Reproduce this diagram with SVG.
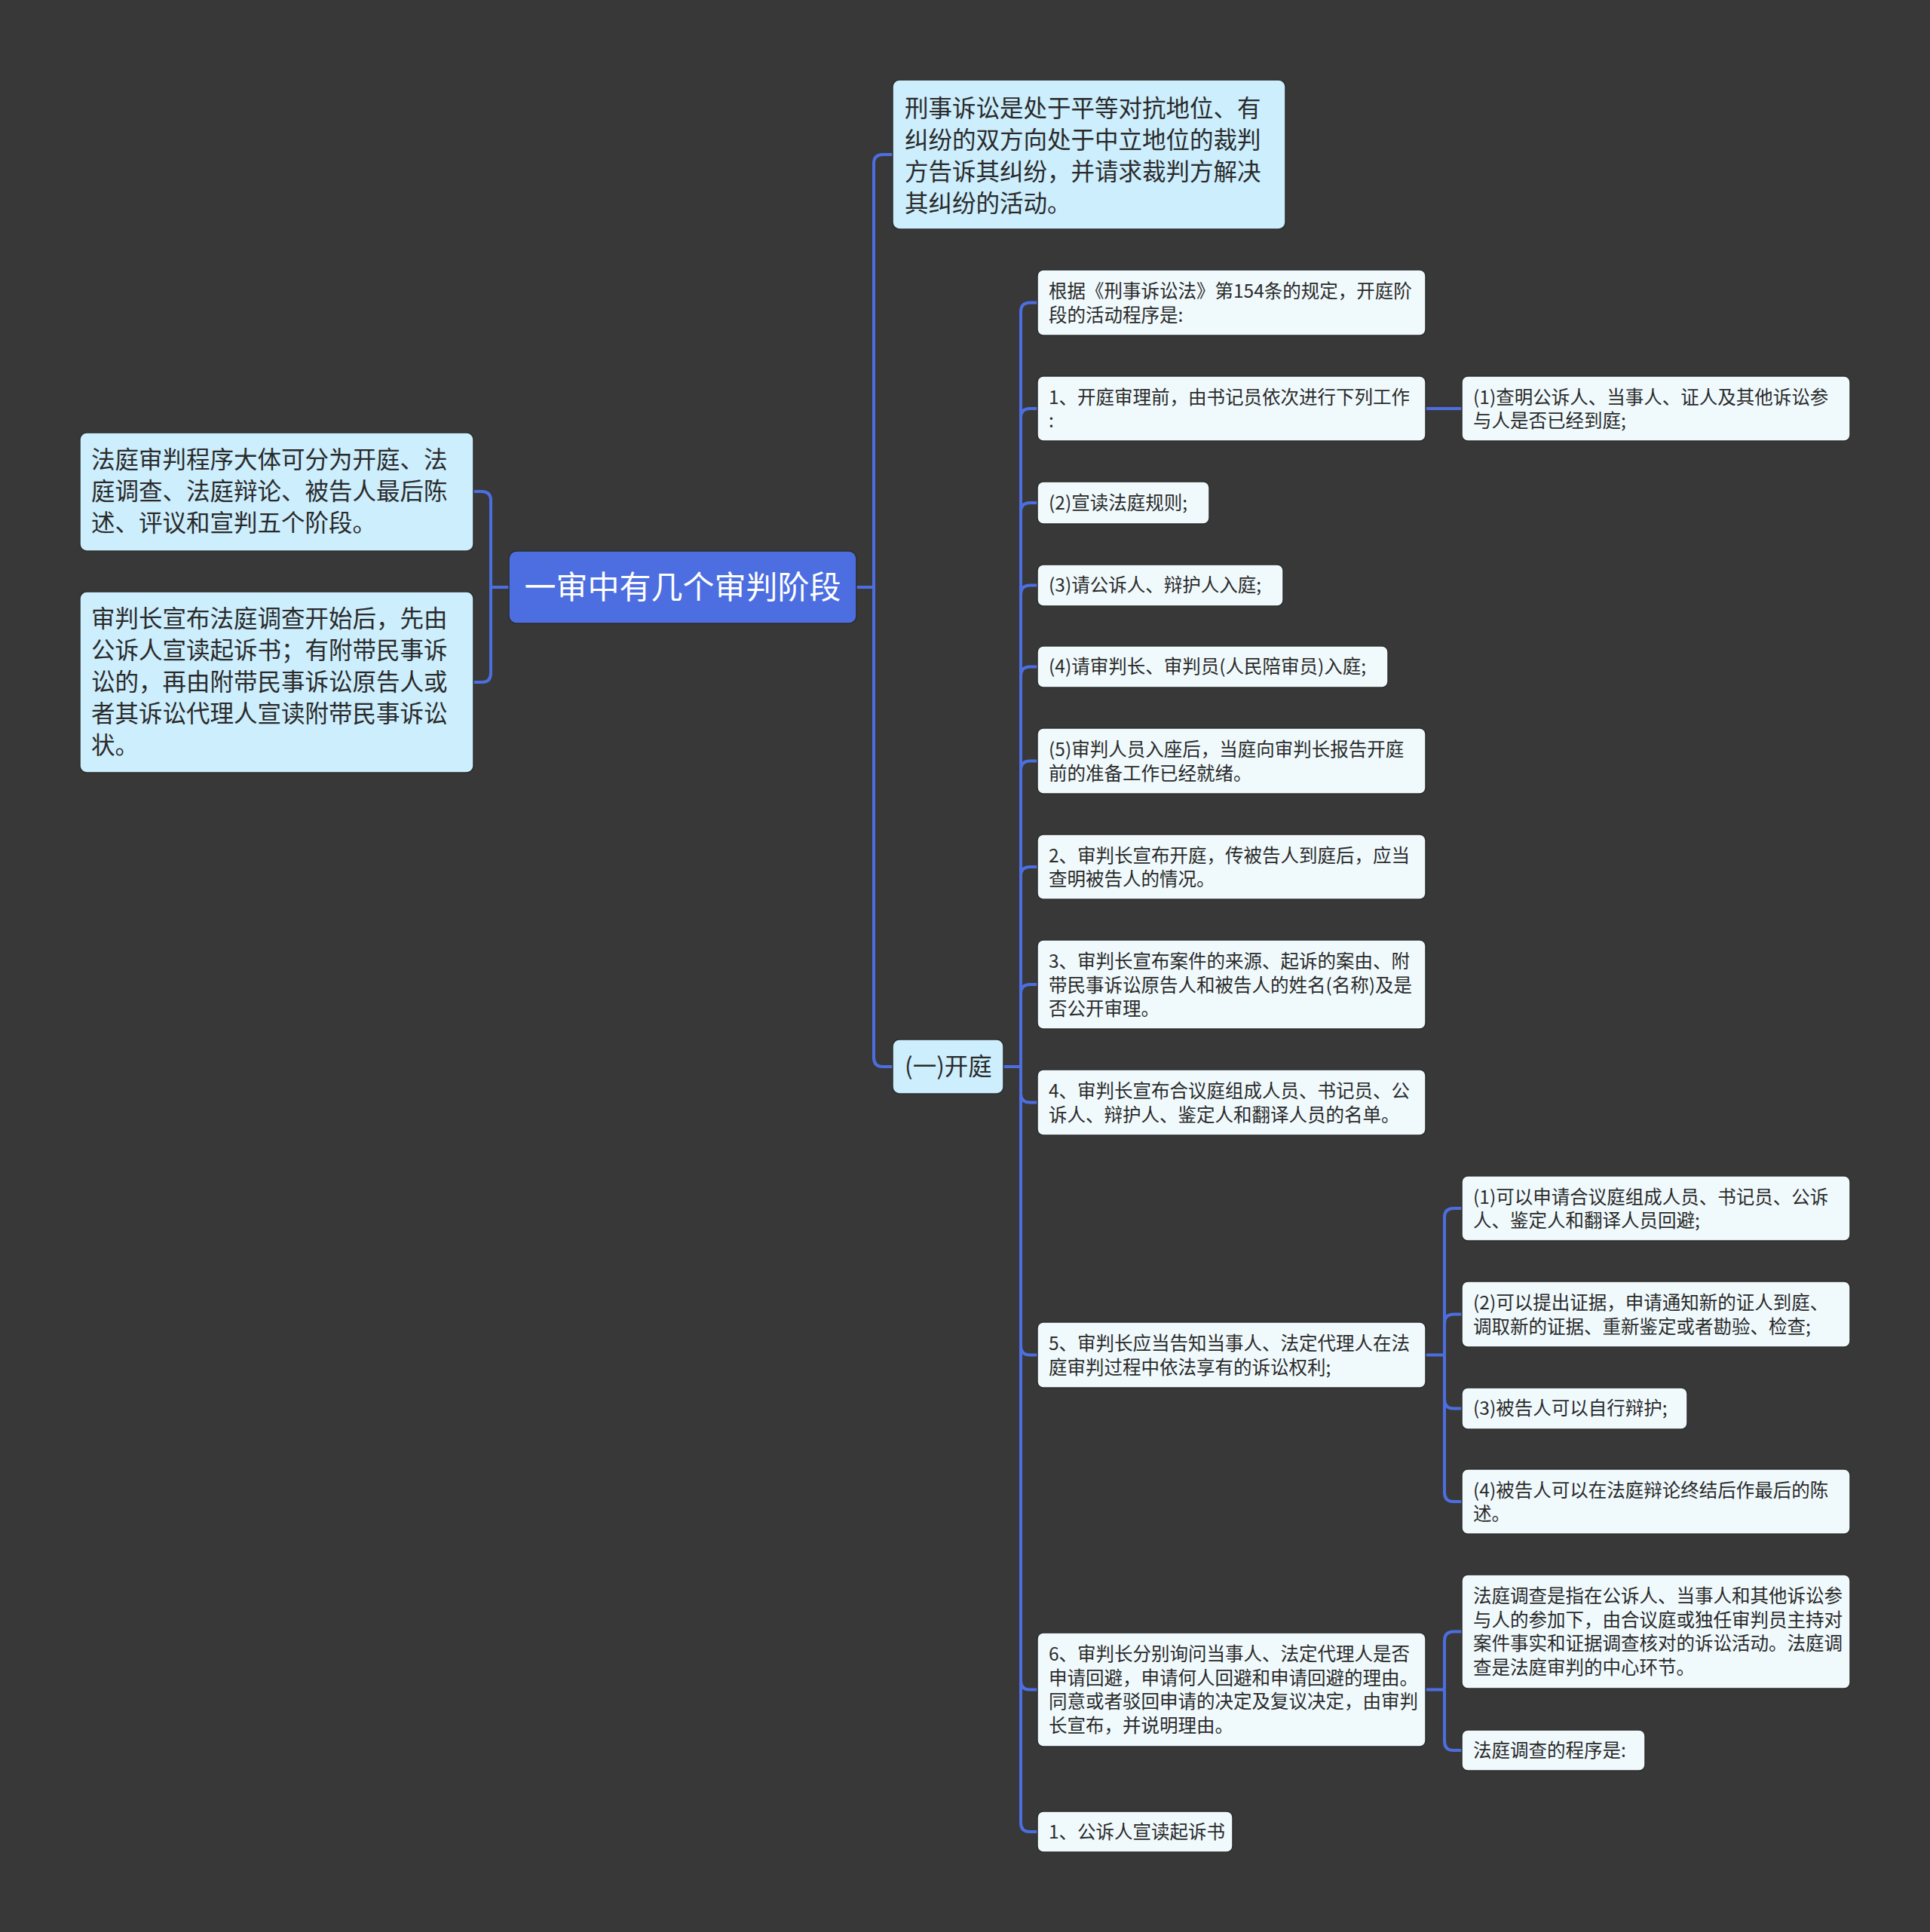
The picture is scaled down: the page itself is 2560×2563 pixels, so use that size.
<svg xmlns="http://www.w3.org/2000/svg" width="2560" height="2563" viewBox="0 0 2560 2563">
<style>
text{font-family:"Noto Sans CJK SC","Microsoft YaHei",sans-serif;}
.bg{fill:#383838;}
.root{fill:#4C6EE0;stroke:#2c2c2c;stroke-width:1.5;}
.l1{fill:#CCEEFD;stroke:#2c2c2c;stroke-width:1.5;}
.l2{fill:#F0FAFD;stroke:#2c2c2c;stroke-width:1.5;}
.rt{fill:#ffffff;font-size:42px;}
.t1{fill:#2a2a2a;font-size:31.5px;}
.t2{fill:#2a2a2a;font-size:24.5px;}
.c{fill:none;stroke:#4C6EE0;stroke-width:4;stroke-linejoin:round;}
</style>
<rect class="bg" x="0" y="0" width="2560" height="2563"/>
<g id="connectors">
<path class="c" d="M1136,779 H1159 V217 Q1159,205 1171,205 H1184"/>
<path class="c" d="M1136,779 H1159 V1403 Q1159,1415 1171,1415 H1184"/>
<path class="c" d="M675,779 H651 V664 Q651,652 639,652 H628"/>
<path class="c" d="M675,779 H651 V893 Q651,905 639,905 H628"/>
<path class="c" d="M1331,1415 H1354"/>
<path class="c" d="M1354,1415 V413.5 Q1354,401.5 1366,401.5 H1376"/>
<path class="c" d="M1354,1415 V554 Q1354,542 1366,542 H1376"/>
<path class="c" d="M1354,1415 V679 Q1354,667 1366,667 H1376"/>
<path class="c" d="M1354,1415 V788.5 Q1354,776.5 1366,776.5 H1376"/>
<path class="c" d="M1354,1415 V896.5 Q1354,884.5 1366,884.5 H1376"/>
<path class="c" d="M1354,1415 V1021.5 Q1354,1009.5 1366,1009.5 H1376"/>
<path class="c" d="M1354,1415 V1162 Q1354,1150 1366,1150 H1376"/>
<path class="c" d="M1354,1415 V1318 Q1354,1306 1366,1306 H1376"/>
<path class="c" d="M1354,1415 V1450.5 Q1354,1462.5 1366,1462.5 H1376"/>
<path class="c" d="M1354,1415 V1785.5 Q1354,1797.5 1366,1797.5 H1376"/>
<path class="c" d="M1354,1415 V2229.5 Q1354,2241.5 1366,2241.5 H1376"/>
<path class="c" d="M1354,1415 V2418 Q1354,2430 1366,2430 H1376"/>
<path class="c" d="M1891,542 H1939"/>
<path class="c" d="M1891,1797.5 H1916"/>
<path class="c" d="M1916,1797.5 V1615 Q1916,1603 1928,1603 H1939"/>
<path class="c" d="M1916,1797.5 V1755.5 Q1916,1743.5 1928,1743.5 H1939"/>
<path class="c" d="M1916,1797.5 V1856.5 Q1916,1868.5 1928,1868.5 H1939"/>
<path class="c" d="M1916,1797.5 V1980 Q1916,1992 1928,1992 H1939"/>
<path class="c" d="M1891,2241.5 H1916"/>
<path class="c" d="M1916,2241.5 V2176.5 Q1916,2164.5 1928,2164.5 H1939"/>
<path class="c" d="M1916,2241.5 V2310 Q1916,2322 1928,2322 H1939"/>
</g>
<g id="root">
<rect class="root" x="675" y="731" width="461" height="96" rx="10"/>
<text class="rt" x="905.5" y="794" text-anchor="middle">一审中有几个审判阶段</text>
</g>
<g id="n-left1">
<rect class="l1" x="106" y="574" width="522" height="157" rx="9"/>
<text class="t1" x="121" y="621">法庭审判程序大体可分为开庭、法</text>
<text class="t1" x="121" y="663">庭调查、法庭辩论、被告人最后陈</text>
<text class="t1" x="121" y="705">述、评议和宣判五个阶段。</text>
</g>
<g id="n-left2">
<rect class="l1" x="106" y="785" width="522" height="240" rx="9"/>
<text class="t1" x="121" y="832">审判长宣布法庭调查开始后，先由</text>
<text class="t1" x="121" y="874">公诉人宣读起诉书；有附带民事诉</text>
<text class="t1" x="121" y="916">讼的，再由附带民事诉讼原告人或</text>
<text class="t1" x="121" y="958">者其诉讼代理人宣读附带民事诉讼</text>
<text class="t1" x="121" y="1000">状。</text>
</g>
<g id="n-r1">
<rect class="l1" x="1184" y="106" width="521" height="198" rx="9"/>
<text class="t1" x="1200" y="155">刑事诉讼是处于平等对抗地位、有</text>
<text class="t1" x="1200" y="197">纠纷的双方向处于中立地位的裁判</text>
<text class="t1" x="1200" y="239">方告诉其纠纷，并请求裁判方解决</text>
<text class="t1" x="1200" y="281">其纠纷的活动。</text>
</g>
<g id="n-kaiting">
<rect class="l1" x="1184" y="1379" width="147" height="72" rx="9"/>
<text class="t1" x="1200" y="1426">(一)开庭</text>
</g>
<g id="n-c1">
<rect class="l2" x="1376" y="358" width="515" height="87" rx="8"/>
<text class="t2" x="1391" y="395">根据《刑事诉讼法》第154条的规定，开庭阶</text>
<text class="t2" x="1391" y="427">段的活动程序是:</text>
</g>
<g id="n-c2">
<rect class="l2" x="1376" y="499" width="515" height="86" rx="8"/>
<text class="t2" x="1391" y="536">1、开庭审理前，由书记员依次进行下列工作</text>
<text class="t2" x="1391" y="567">:</text>
</g>
<g id="n-c2a">
<rect class="l2" x="1939" y="499" width="515" height="86" rx="8"/>
<text class="t2" x="1954" y="536">(1)查明公诉人、当事人、证人及其他诉讼参</text>
<text class="t2" x="1954" y="567">与人是否已经到庭;</text>
</g>
<g id="n-c3">
<rect class="l2" x="1376" y="639" width="228" height="56" rx="8"/>
<text class="t2" x="1391" y="675.5">(2)宣读法庭规则;</text>
</g>
<g id="n-c4">
<rect class="l2" x="1376" y="749" width="326" height="55" rx="8"/>
<text class="t2" x="1391" y="785">(3)请公诉人、辩护人入庭;</text>
</g>
<g id="n-c5">
<rect class="l2" x="1376" y="857" width="465" height="55" rx="8"/>
<text class="t2" x="1391" y="893">(4)请审判长、审判员(人民陪审员)入庭;</text>
</g>
<g id="n-c6">
<rect class="l2" x="1376" y="966" width="515" height="87" rx="8"/>
<text class="t2" x="1391" y="1003">(5)审判人员入座后，当庭向审判长报告开庭</text>
<text class="t2" x="1391" y="1035">前的准备工作已经就绪。</text>
</g>
<g id="n-c7">
<rect class="l2" x="1376" y="1107" width="515" height="86" rx="8"/>
<text class="t2" x="1391" y="1144">2、审判长宣布开庭，传被告人到庭后，应当</text>
<text class="t2" x="1391" y="1175">查明被告人的情况。</text>
</g>
<g id="n-c8">
<rect class="l2" x="1376" y="1247" width="515" height="118" rx="8"/>
<text class="t2" x="1391" y="1284">3、审判长宣布案件的来源、起诉的案由、附</text>
<text class="t2" x="1391" y="1315.5">带民事诉讼原告人和被告人的姓名(名称)及是</text>
<text class="t2" x="1391" y="1347">否公开审理。</text>
</g>
<g id="n-c9">
<rect class="l2" x="1376" y="1419" width="515" height="87" rx="8"/>
<text class="t2" x="1391" y="1456">4、审判长宣布合议庭组成人员、书记员、公</text>
<text class="t2" x="1391" y="1488">诉人、辩护人、鉴定人和翻译人员的名单。</text>
</g>
<g id="n-c10">
<rect class="l2" x="1376" y="1754" width="515" height="87" rx="8"/>
<text class="t2" x="1391" y="1791">5、审判长应当告知当事人、法定代理人在法</text>
<text class="t2" x="1391" y="1823">庭审判过程中依法享有的诉讼权利;</text>
</g>
<g id="n-d1">
<rect class="l2" x="1939" y="1560" width="515" height="86" rx="8"/>
<text class="t2" x="1954" y="1597">(1)可以申请合议庭组成人员、书记员、公诉</text>
<text class="t2" x="1954" y="1628">人、鉴定人和翻译人员回避;</text>
</g>
<g id="n-d2">
<rect class="l2" x="1939" y="1700" width="515" height="87" rx="8"/>
<text class="t2" x="1954" y="1737">(2)可以提出证据，申请通知新的证人到庭、</text>
<text class="t2" x="1954" y="1769">调取新的证据、重新鉴定或者勘验、检查;</text>
</g>
<g id="n-d3">
<rect class="l2" x="1939" y="1841" width="299" height="55" rx="8"/>
<text class="t2" x="1954" y="1877">(3)被告人可以自行辩护;</text>
</g>
<g id="n-d4">
<rect class="l2" x="1939" y="1949" width="515" height="86" rx="8"/>
<text class="t2" x="1954" y="1986">(4)被告人可以在法庭辩论终结后作最后的陈</text>
<text class="t2" x="1954" y="2017">述。</text>
</g>
<g id="n-c11">
<rect class="l2" x="1376" y="2166" width="515" height="151" rx="8"/>
<text class="t2" x="1391" y="2203">6、审判长分别询问当事人、法定代理人是否</text>
<text class="t2" x="1391" y="2234.5">申请回避，申请何人回避和申请回避的理由。</text>
<text class="t2" x="1391" y="2266">同意或者驳回申请的决定及复议决定，由审判</text>
<text class="t2" x="1391" y="2297.5">长宣布，并说明理由。</text>
</g>
<g id="n-e1">
<rect class="l2" x="1939" y="2089" width="515" height="151" rx="8"/>
<text class="t2" x="1954" y="2126">法庭调查是指在公诉人、当事人和其他诉讼参</text>
<text class="t2" x="1954" y="2157.5">与人的参加下，由合议庭或独任审判员主持对</text>
<text class="t2" x="1954" y="2189">案件事实和证据调查核对的诉讼活动。法庭调</text>
<text class="t2" x="1954" y="2220.5">查是法庭审判的中心环节。</text>
</g>
<g id="n-e2">
<rect class="l2" x="1939" y="2295" width="243" height="54" rx="8"/>
<text class="t2" x="1954" y="2330.5">法庭调查的程序是:</text>
</g>
<g id="n-c12">
<rect class="l2" x="1376" y="2403" width="259" height="54" rx="8"/>
<text class="t2" x="1391" y="2438.5">1、公诉人宣读起诉书</text>
</g>
</svg>
